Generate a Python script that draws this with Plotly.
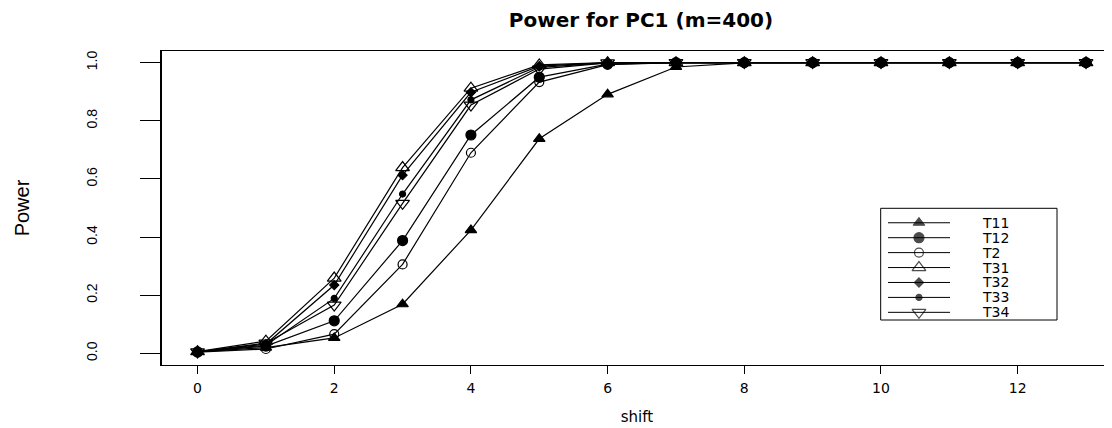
import plotly.graph_objects as go

shift = list(range(14))
T11 = [0.005, 0.020, 0.053, 0.169, 0.424, 0.738, 0.891, 0.985, 0.999, 1.0, 1.0, 1.0, 1.0, 1.0]
T12 = [0.005, 0.025, 0.112, 0.388, 0.751, 0.950, 0.995, 1.0, 1.0, 1.0, 1.0, 1.0, 1.0, 1.0]
T2 = [0.004, 0.015, 0.066, 0.306, 0.690, 0.933, 0.993, 1.0, 1.0, 1.0, 1.0, 1.0, 1.0, 1.0]
T31 = [0.006, 0.042, 0.259, 0.639, 0.912, 0.992, 1.0, 1.0, 1.0, 1.0, 1.0, 1.0, 1.0, 1.0]
T32 = [0.005, 0.032, 0.235, 0.613, 0.898, 0.988, 1.0, 1.0, 1.0, 1.0, 1.0, 1.0, 1.0, 1.0]
T33 = [0.005, 0.028, 0.189, 0.548, 0.872, 0.984, 0.999, 1.0, 1.0, 1.0, 1.0, 1.0, 1.0, 1.0]
T34 = [0.005, 0.035, 0.166, 0.516, 0.854, 0.978, 0.999, 1.0, 1.0, 1.0, 1.0, 1.0, 1.0, 1.0]

names = ["T11", "T12", "T2", "T31", "T32", "T33", "T34"]
series = [T11, T12, T2, T31, T32, T33, T34]
symbols = ["triangle-up", "circle", "circle-open", "triangle-up-open", "diamond", "circle", "triangle-down-open"]
sizes = [10, 10, 9, 12, 7, 6, 12]

x_ticks = [0, 2, 4, 6, 8, 10, 12]
y_ticks = [0.0, 0.2, 0.4, 0.6, 0.8, 1.0]
y_ticktext = ["0.0", "0.2", "0.4", "0.6", "0.8", "1.0"]

fig = go.Figure()
for nm, ys, sym, sz in zip(names, series, symbols, sizes):
    fig.add_trace(go.Scatter(
        x=shift, y=ys, name=nm, mode="lines+markers",
        line=dict(color="black", width=1.2),
        marker=dict(symbol=sym, size=sz, color="black", line=dict(color="black", width=1.2)),
        showlegend=False, cliponaxis=False,
    ))

# manual legend on an overlay axis in plot-fraction units
L_x0, L_x1 = 0.7565, 0.9421
L_top, L_bot = 0.499, 0.1433
row_y = [0.453 - i * 0.04755 for i in range(7)]
seg_x = [0.7642, 0.7968, 0.8295]
for i, (nm, sym, sz) in enumerate(zip(names, symbols, sizes)):
    fig.add_trace(go.Scatter(
        x=seg_x, y=[row_y[i]] * 3, mode="lines+markers", xaxis="x2", yaxis="y2",
        line=dict(color="black", width=1),
        marker=dict(symbol=sym, size=[0, sz, 0], color="black", line=dict(color="black", width=1.2)),
        showlegend=False, hoverinfo="skip",
    ))
    fig.add_annotation(x=0.8611, y=row_y[i], xref="x2", yref="y2", text=nm,
                       showarrow=False, xanchor="left", yanchor="middle",
                       font=dict(family="DejaVu Sans", size=14, color="black"))

fig.add_shape(type="rect", xref="x2", yref="y2", x0=L_x0, x1=L_x1, y0=L_bot, y1=L_top,
              line=dict(color="black", width=1), fillcolor="rgba(0,0,0,0)", layer="below")

fig.update_layout(
    width=1112, height=428,
    margin=dict(l=154, r=8, t=43, b=71),
    paper_bgcolor="white", plot_bgcolor="white",
    title=dict(text="<b>Power for PC1 (m=400)</b>", x=0.5692, xanchor="center",
               y=1 - 12 / 428, yref="container", yanchor="middle",
               font=dict(family="DejaVu Sans", size=20, color="black")),
    xaxis=dict(range=[-0.52, 13.38], tickvals=x_ticks, ticks="outside", ticklen=8,
               tickcolor="black", tickwidth=1, showline=True, mirror=True,
               linecolor="black", linewidth=1, showgrid=False, zeroline=False,
               automargin=False, ticklabelstandoff=2,
               tickfont=dict(family="DejaVu Sans", size=14, color="black"),
               title=dict(text="shift", standoff=16,
                          font=dict(family="DejaVu Sans", size=15, color="black"))),
    yaxis=dict(range=[-0.04, 1.04], tickvals=y_ticks, ticktext=y_ticktext,
               tickangle=-90, ticks="outside", ticklen=20, tickcolor="black",
               tickwidth=1, showline=True, mirror=False, linecolor="black",
               linewidth=1.5, showgrid=False, zeroline=False, ticklabelstandoff=38,
               automargin=False,
               tickfont=dict(family="Liberation Sans", size=14, color="black"),
               title=dict(text="Power", standoff=49,
                          font=dict(family="Liberation Sans Narrow, Liberation Sans", size=20, color="black"))),
    xaxis2=dict(range=[0, 1], overlaying="x", visible=False, fixedrange=True),
    yaxis2=dict(range=[0, 1], overlaying="y", visible=False, fixedrange=True),
)

fig.write_html("out.html")
